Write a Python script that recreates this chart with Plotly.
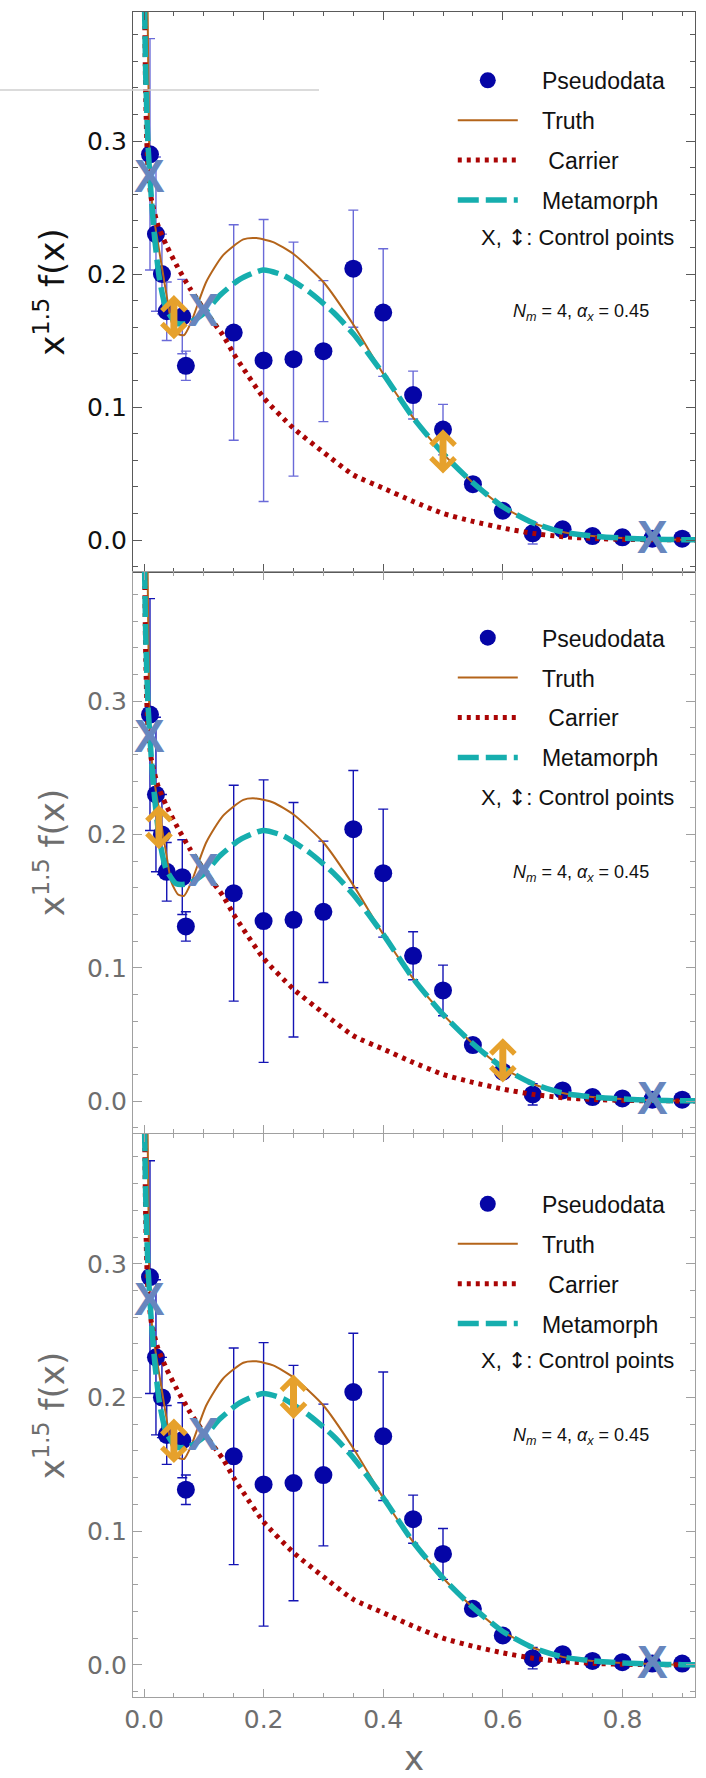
import plotly.graph_objects as go

# ---------------- data ----------------
data_x = [0.01, 0.02, 0.03, 0.038, 0.064, 0.07, 0.15, 0.2, 0.25, 0.3, 0.35, 0.4,
          0.45, 0.5, 0.55, 0.6, 0.65, 0.7, 0.75, 0.8, 0.85, 0.9]
data_y = [0.290, 0.230, 0.200, 0.172, 0.168, 0.131, 0.156, 0.135, 0.136, 0.142, 0.204, 0.171,
          0.109, 0.083, 0.042, 0.022, 0.005, 0.008, 0.003, 0.002, 0.001, 0.001]
data_err = [0.087, 0.058, 0.030, 0.022, 0.028, 0.011, 0.081, 0.106, 0.088, 0.053, 0.044, 0.048,
            0.018, 0.019, 0.004, 0.003, 0.008, 0.003, 0.002, 0.002, 0.001, 0.001]

truth_x = [0.006, 0.0085, 0.0095, 0.015, 0.026, 0.037, 0.046, 0.057, 0.067, 0.079, 0.104, 0.132,
           0.166, 0.188, 0.216, 0.25, 0.3, 0.35, 0.4, 0.45, 0.5, 0.55, 0.6, 0.65, 0.7, 0.75,
           0.8, 0.85, 0.9, 0.93]
truth_y = [0.40, 0.30, 0.28, 0.247, 0.216, 0.186, 0.164, 0.155, 0.154, 0.164, 0.194, 0.214,
           0.226, 0.227, 0.224, 0.215, 0.194, 0.162, 0.125, 0.092, 0.065, 0.043, 0.025, 0.013,
           0.006, 0.003, 0.0015, 0.0006, 0.0002, 0.0001]

carrier_x = [0.001, 0.003, 0.006, 0.012, 0.023, 0.037, 0.054, 0.077, 0.104, 0.132, 0.15, 0.166,
             0.2, 0.25, 0.3, 0.35, 0.4, 0.45, 0.5, 0.55, 0.6, 0.65, 0.7, 0.75, 0.8, 0.85, 0.9, 0.93]
carrier_y = [0.40, 0.33, 0.285, 0.257, 0.237, 0.222, 0.207, 0.189, 0.171, 0.154, 0.140, 0.129,
             0.107, 0.084, 0.066, 0.049, 0.039, 0.029, 0.020, 0.014, 0.009, 0.005, 0.0025,
             0.0012, 0.0005, 0.0002, 0.0001, 0.0]

meta_x = [0.001, 0.003, 0.0067, 0.0123, 0.018, 0.026, 0.037, 0.054, 0.074, 0.099, 0.127, 0.16,
          0.199, 0.233, 0.278, 0.317, 0.35, 0.4, 0.45, 0.5, 0.55, 0.6, 0.65, 0.7, 0.75, 0.8,
          0.85, 0.9, 0.93]
meta_y = [0.40, 0.347, 0.297, 0.257, 0.226, 0.196, 0.174, 0.163, 0.163, 0.170, 0.184, 0.196,
          0.203, 0.199, 0.186, 0.171, 0.155, 0.125, 0.092, 0.065, 0.043, 0.025, 0.013, 0.006,
          0.003, 0.0015, 0.0006, 0.0002, 0.0001]

# control points marked "X" (same in all panels)
ctrl_x = [0.01, 0.1, 0.85]
ctrl_y = [0.274, 0.173, 0.002]

# control points marked with double arrows, one pair per panel
arrows_p1_x = [0.05, 0.5]
arrows_p1_y = [0.167, 0.066]
arrows_p2_x = [0.025, 0.6]
arrows_p2_y = [0.205, 0.030]
arrows_p3_x = [0.05, 0.25]
arrows_p3_y = [0.167, 0.200]

x_ticks = [0.0, 0.2, 0.4, 0.6, 0.8]
y_ticks = [0.0, 0.1, 0.2, 0.3]
series_names = ["Pseudodata", "Truth", "Carrier", "Metamorph"]
annot_text = "<i>N</i><sub><i>m</i></sub> = 4, <i>α</i><sub><i>x</i></sub> = 0.45"
ctrl_text = 'X, <span style="font-family:DejaVu Sans">↕</span>: Control points'

# ---------------- style ----------------
FONT = "Liberation Sans, Arial, Helvetica, sans-serif"
TFONT = "DejaVu Sans, Liberation Sans, sans-serif"
DOT = "#0505A6"
TRUTH = "#B4641A"
CARRIER = "#AA0505"
META = "#16AEAE"
XCOL = "#6786BE"
ARROW = "#E6A12C"
PAD = "\u00a0\u00a0\u00a0"

domains = [[0.6677, 1.0], [0.3347, 0.6677], [0.0, 0.3341]]
frame_cols = ["#5a5a5a", "#a0a0a0", "#a0a0a0"]
label_cols = ["#111111", "#6e6e6e", "#6e6e6e"]
err_cols = ["#6A6AD8", "#1414B4", "#1414B4"]
arrows = [(arrows_p1_x, arrows_p1_y), (arrows_p2_x, arrows_p2_y), (arrows_p3_x, arrows_p3_y)]
legend_tops = [0.9722, 0.6414, 0.3054]

fig = go.Figure()
annotations = []
layout = dict()

for i in range(3):
    sx = "" if i == 0 else str(i + 1)
    xa, ya = "x" + sx, "y" + sx
    leg = "legend" + sx

    fig.add_trace(go.Scatter(
        x=data_x, y=data_y, mode="markers", name=PAD + series_names[0],
        marker=dict(color=DOT, size=18),
        error_y=dict(type="data", array=data_err, color=err_cols[i], thickness=1.4, width=5),
        xaxis=xa, yaxis=ya, legend=leg, legendgroup="a" + sx))
    fig.add_trace(go.Scatter(
        x=truth_x, y=truth_y, mode="lines", name=PAD + series_names[1],
        line=dict(color=TRUTH, width=2, shape="spline", smoothing=0.6),
        xaxis=xa, yaxis=ya, legend=leg, legendgroup="b" + sx))
    fig.add_trace(go.Scatter(
        x=carrier_x, y=carrier_y, mode="lines", name=PAD + "\u00a0" + series_names[2],
        line=dict(color=CARRIER, width=5, dash="4px,5px", shape="spline", smoothing=0.6),
        xaxis=xa, yaxis=ya, legend=leg, legendgroup="c" + sx))
    fig.add_trace(go.Scatter(
        x=meta_x, y=meta_y, mode="lines", name=PAD + series_names[3],
        line=dict(color=META, width=5.5, dash="21px,7px", shape="spline", smoothing=0.6),
        xaxis=xa, yaxis=ya, legend=leg, legendgroup="d" + sx))

    # "X" control points, placed through the data axes
    for cx, cy in zip(ctrl_x, ctrl_y):
        annotations.append(dict(
            x=cx, y=cy, xref=xa, yref=ya, text="<b>X</b>", showarrow=False,
            xanchor="center", yanchor="middle",
            font=dict(family=FONT, size=46, color=XCOL)))

    # double-arrow control points
    ax_x, ax_y = arrows[i]
    for px, py in zip(ax_x, ax_y):
        annotations.append(dict(
            x=px, y=py + 0.0172, ax=px, ay=py - 0.0172,
            xref=xa, yref=ya, axref=xa, ayref=ya, text="",
            showarrow=True, arrowside="end+start",
            arrowhead=4, startarrowhead=4, arrowsize=0.66, startarrowsize=0.66,
            arrowwidth=7, arrowcolor=ARROW, standoff=0, startstandoff=0))

    annotations.append(dict(
        text=annot_text, xref=xa + " domain", yref=ya + " domain",
        x=0.797, y=0.4625, xanchor="center", yanchor="middle", showarrow=False,
        font=dict(family=FONT, size=18, color="#111111")))
    annotations.append(dict(
        text=ctrl_text, xref=xa + " domain", yref=ya + " domain",
        x=0.615, y=0.598, xanchor="left", yanchor="middle", showarrow=False,
        font=dict(family=FONT, size=22, color="#111111")))

    xdict = dict(
        domain=[0, 1], anchor=ya, range=[-0.0184, 0.9214],
        tickvals=x_ticks, ticktext=[f"{v:.1f}" for v in x_ticks],
        showticklabels=(i == 2),
        ticks="inside", ticklen=8, tickwidth=1, tickcolor=frame_cols[i],
        minor=dict(dtick=0.05, tick0=0, ticks="inside", ticklen=4, tickcolor=frame_cols[i]),
        showline=True, linecolor=frame_cols[i], linewidth=1.3, mirror="ticks",
        showgrid=False, zeroline=False,
        tickfont=dict(family=TFONT, size=25, color=label_cols[i]))
    if i == 2:
        xdict["title"] = dict(text="x", font=dict(family=TFONT, size=34, color=label_cols[i]),
                              standoff=16)
    layout["xaxis" + sx] = xdict
    layout["yaxis" + sx] = dict(
        domain=domains[i], anchor=xa, range=[-0.024, 0.397],
        tickvals=y_ticks, ticktext=[f"{v:.1f}" for v in y_ticks],
        ticks="inside", ticklen=9, tickwidth=1, tickcolor=frame_cols[i],
        minor=dict(dtick=0.02, tick0=0, ticks="inside", ticklen=5, tickcolor=frame_cols[i]),
        showline=True, linecolor=frame_cols[i], linewidth=1.3, mirror="ticks",
        showgrid=False, zeroline=False,
        tickfont=dict(family=TFONT, size=25, color=label_cols[i]),
        title=dict(text="x<sup>1.5</sup> f(x)", font=dict(family=TFONT, size=34, color=label_cols[i]),
                   standoff=12))
    layout["legend" + sx] = dict(
        x=0.569, y=legend_tops[i], xanchor="left", yanchor="top",
        xref="paper", yref="paper",
        font=dict(family=FONT, size=23, color="#111111"),
        bgcolor="rgba(0,0,0,0)", borderwidth=0,
        itemwidth=60, tracegroupgap=7, traceorder="grouped")

fig.update_layout(
    width=706, height=1778,
    margin=dict(l=133, r=11, t=12, b=81, autoexpand=False),
    paper_bgcolor="white", plot_bgcolor="white",
    font=dict(family=FONT, color="#111111"),
    annotations=annotations,
    shapes=[dict(type="line", xref="paper", yref="paper",
                 x0=-0.2367, x1=0.331, y0=0.9537, y1=0.9537,
                 line=dict(color="#cfcfcf", width=1.5), layer="above")],
    **layout)

fig.write_html("out.html")
